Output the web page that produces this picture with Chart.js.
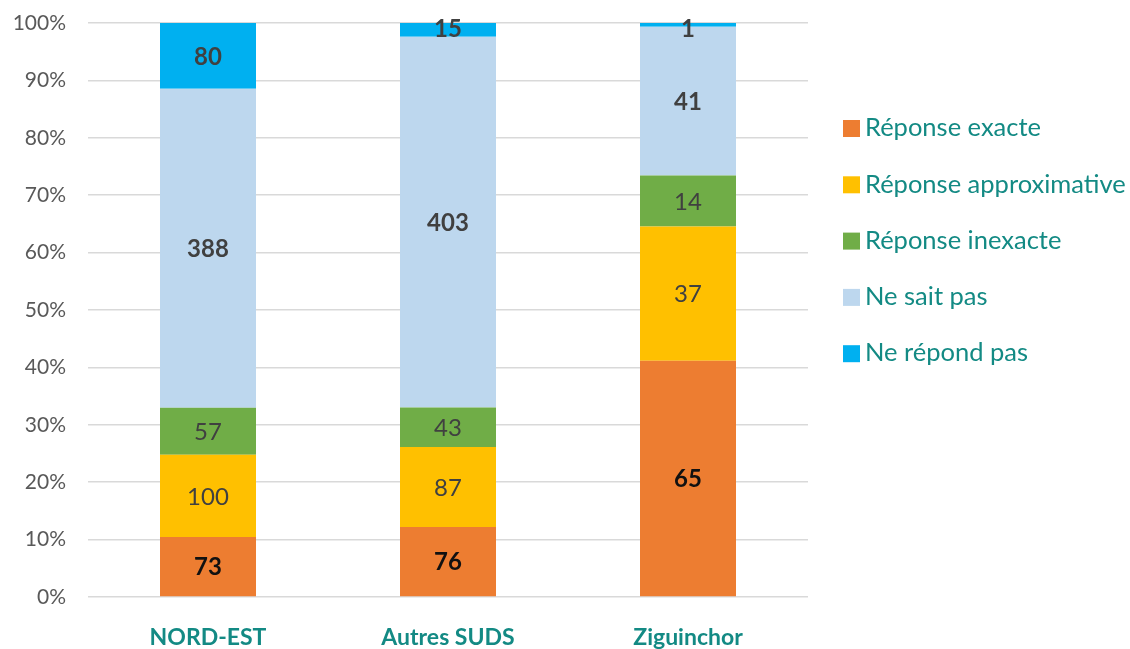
<!DOCTYPE html>
<html>
<head>
<meta charset="utf-8">
<script src="https://cdn.jsdelivr.net/npm/chart.js@4.4.0/dist/chart.umd.min.js"></script>
<style>
  html, body { margin: 0; padding: 0; background: #fff; }
  #wrap { width: 1130px; height: 649px; }
</style>
</head>
<body>
<div id="wrap"><canvas id="answersChart" width="1130" height="649"></canvas></div>
<script>
// counts
var regions = ['NORD-EST', 'Autres SUDS', 'Ziguinchor'];
var exacte = [73, 76, 65];
var approx = [100, 87, 37];
var inexacte = [57, 43, 14];
var nesaitpas = [388, 403, 41];
var nerepondpas = [80, 15, 1];
var yTicks = [0, 10, 20, 30, 40, 50, 60, 70, 80, 90, 100];

var totals = regions.map(function(r, i) {
  return exacte[i] + approx[i] + inexacte[i] + nesaitpas[i] + nerepondpas[i];
});
function pct(arr) {
  return arr.map(function(v, i) { return v / totals[i] * 100; });
}

var teal = '#138a84';
var fontFam = 'Lato, "Liberation Sans", sans-serif';

// label styles per series (bold / colour like the original)
var series = [
  { label: 'Réponse exacte', counts: exacte, color: '#ED7D31', txt: '#111111', bold: true },
  { label: 'Réponse approximative', counts: approx, color: '#FFC000', txt: '#404040', bold: false },
  { label: 'Réponse inexacte', counts: inexacte, color: '#70AD47', txt: '#404040', bold: false },
  { label: 'Ne sait pas', counts: nesaitpas, color: '#BDD7EE', txt: '#404040', bold: true },
  { label: 'Ne répond pas', counts: nerepondpas, color: '#00B0F0', txt: '#404040', bold: true }
];

// writes the raw count in the middle of each segment
var segmentLabels = {
  id: 'segmentLabels',
  afterDatasetsDraw: function(chart) {
    var ctx = chart.ctx;
    ctx.save();
    ctx.textAlign = 'center';
    ctx.textBaseline = 'middle';
    chart.data.datasets.forEach(function(ds, di) {
      var s = series[di];
      ctx.fillStyle = s.txt;
      ctx.font = (s.bold ? 'bold ' : '') + '24px ' + fontFam;
      chart.getDatasetMeta(di).data.forEach(function(bar, i) {
        var mid = (bar.y + bar.base) / 2;
        if (Math.abs(bar.base - bar.y) < 20) mid = bar.y + 5;
        ctx.fillText(String(s.counts[i]), bar.x, mid + 1);
      });
    });
    ctx.restore();
  }
};

// legend on the right, drawn by hand
var sideLegend = {
  id: 'sideLegend',
  afterDraw: function(chart) {
    var ctx = chart.ctx;
    var x = chart.chartArea.right + 35;
    var y0 = 128, step = 56.3;
    ctx.save();
    ctx.font = '25.5px ' + fontFam;
    ctx.textBaseline = 'middle';
    ctx.textAlign = 'left';
    series.forEach(function(s, i) {
      var y = y0 + i * step;
      ctx.fillStyle = s.color;
      ctx.fillRect(x, y - 8, 17, 17);
      ctx.fillStyle = teal;
      ctx.fillText(s.label, x + 22, y);
    });
    ctx.restore();
  }
};

var ctx = document.getElementById('answersChart').getContext('2d');
var chart = new Chart(ctx, {
  type: 'bar',
  data: {
    labels: regions,
    datasets: series.map(function(s) {
      return {
        label: s.label,
        data: pct(s.counts),
        backgroundColor: s.color,
        borderWidth: 0,
        categoryPercentage: 1,
        barPercentage: 0.4
      };
    })
  },
  options: {
    responsive: false,
    animation: false,
    layout: { padding: { left: 0, right: 322, top: 23, bottom: 0 } },
    plugins: {
      legend: { display: false },
      tooltip: { enabled: false }
    },
    scales: {
      x: {
        stacked: true,
        grid: { display: false },
        border: { display: false },
        ticks: {
          color: teal,
          font: { family: fontFam, size: 23, weight: 'bold' },
          padding: 19
        },
        afterFit: function(scale) { scale.height = 52; }
      },
      y: {
        stacked: true,
        min: 0,
        max: 100,
        afterBuildTicks: function(scale) {
          scale.ticks = yTicks.map(function(v) { return { value: v }; });
        },
        grid: { color: '#d9d9d9', lineWidth: 1.5, drawTicks: false },
        border: { display: false },
        ticks: {
          color: '#595959',
          font: { family: fontFam, size: 21 },
          padding: 22,
          callback: function(v) { return v + '%'; }
        },
        afterFit: function(scale) {
          scale.width = 88;
          scale.paddingTop = 0;
          scale.paddingBottom = 0;
        }
      }
    }
  },
  plugins: [segmentLabels, sideLegend]
});
</script>
</body>
</html>
